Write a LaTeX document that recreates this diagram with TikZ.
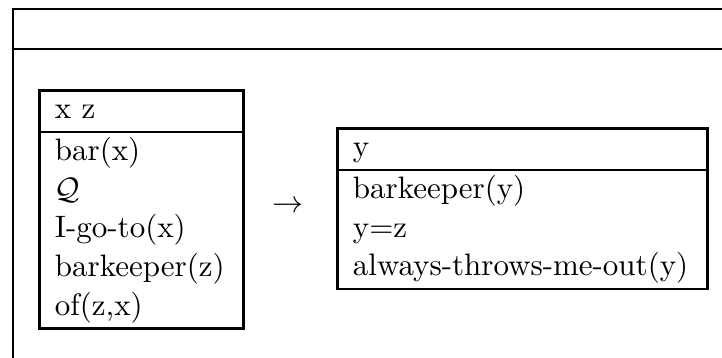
\documentclass[tikz,border=0pt]{standalone}
\usetikzlibrary{shapes.multipart}
\begin{document}
\begin{tikzpicture}[x=0.3226pt, y=-0.3226pt, line width=0.9pt,
    drsbox/.style={draw, rectangle split, rectangle split parts=2, anchor=north west,
      inner xsep=5pt, inner ysep=0pt, align=left, font=\fontsize{10}{12.5}\selectfont}]
  \useasboundingbox (0,0) rectangle (722,358);
  \clip (0,0) rectangle (722,358);
  % outer box
  \draw (13,362) -- (13,9) -- (726,9);
  \draw (13,49) -- (726,49);
  % antecedent and consequent
  \node[drsbox, text width=55.8pt] (ante) at (38,89)
    {\strut x z
     \nodepart{two}
     \strut\mbox{bar(x)}\\
     \strut$\mathcal{Q}$\\
     \strut\mbox{I-go-to(x)}\\
     \strut\mbox{barkeeper(z)}\\
     \strut\mbox{of(z,x)}};
  \node[drsbox, text width=109.4pt] (cons) at (336,127)
    {\strut y
     \nodepart{two}
     \strut\mbox{barkeeper(y)}\\
     \strut\mbox{y=z}\\
     \strut\mbox{always-throws-me-out(y)}};
  \node (impl) at (288,207) {$\rightarrow$};
\end{tikzpicture}
\end{document}
